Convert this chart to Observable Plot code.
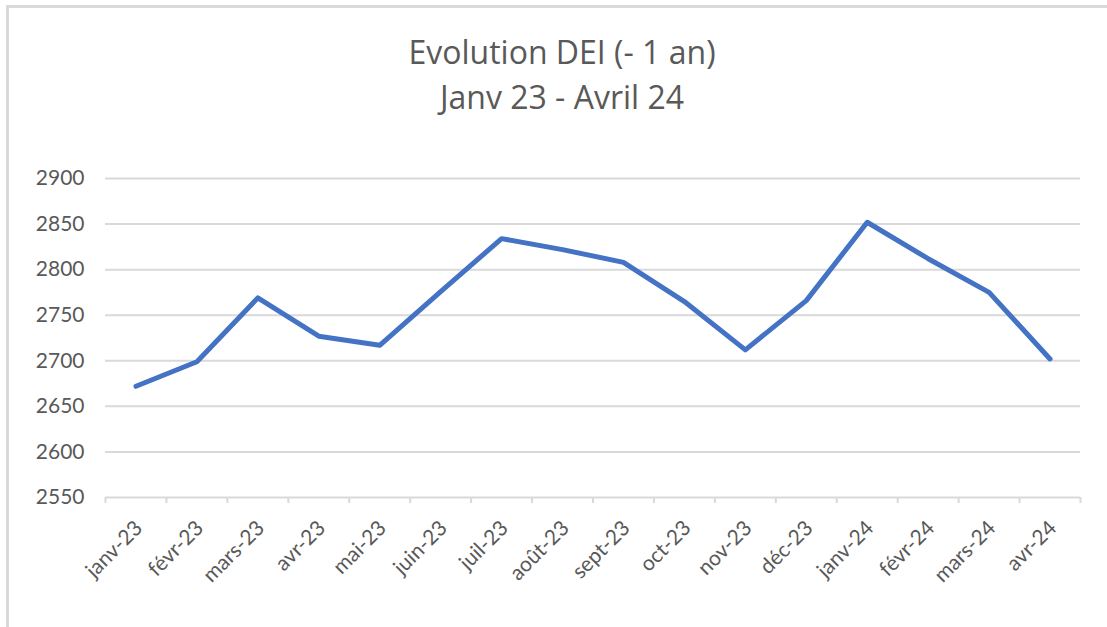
<!DOCTYPE html>
<html>
<head>
<meta charset="utf-8">
<script src="https://cdn.jsdelivr.net/npm/d3@7"></script>
<script src="https://cdn.jsdelivr.net/npm/@observablehq/plot@0.6"></script>
<style>
  html, body { margin: 0; padding: 0; background: #fff; }
  #wrap { position: relative; width: 1107px; height: 627px; overflow: hidden; font-family: Lato, "Open Sans", sans-serif; }
  #frame { position: absolute; left: 6px; top: 5px; right: 0; bottom: 0; border-top: 3px solid #d9d9d9; border-left: 3px solid #d9d9d9; }
  #title { position: absolute; left: 0; top: 29px; width: 1124px; text-align: center; color: #595959; font-family: "Open Sans", Lato, sans-serif; font-size: 32px; line-height: 45px; }
  #chart { position: absolute; left: 0; top: 150px; }
</style>
</head>
<body>
<div id="wrap">
  <div id="frame"></div>
  <div id="title">Evolution DEI (- 1 an)<br>Janv 23 - Avril 24</div>
  <div id="chart"></div>
</div>
<script>
const months = ["janv-23","févr-23","mars-23","avr-23","mai-23","juin-23","juil-23","août-23","sept-23","oct-23","nov-23","déc-23","janv-24","févr-24","mars-24","avr-24"];
const values = [2672, 2699, 2769, 2727, 2717, 2776, 2834, 2822, 2808, 2765, 2712, 2766, 2852, 2812, 2775, 2702];
const yTicks = [2550, 2600, 2650, 2700, 2750, 2800, 2850, 2900];

const data = months.map((m, i) => ({month: m, value: values[i]}));

const W = 1107, H = 470;
const mL = 105, mR = 27, mT = 28, mB = 123;
const step = (W - mL - mR) / months.length;

const plot = Plot.plot({
  width: W,
  height: H,
  marginLeft: mL,
  marginRight: mR,
  marginTop: mT,
  marginBottom: mB,
  style: {fontFamily: "Lato, 'Open Sans', sans-serif", background: "transparent", overflow: "visible"},
  x: {type: "point", domain: months, padding: 0.5, round: false},
  y: {domain: [2550, 2900]},
  marks: [
    Plot.gridY(yTicks, {stroke: "#d9d9d9", strokeOpacity: 1, strokeWidth: 2}),
    Plot.axisY(yTicks, {tickSize: 0, tickPadding: 21, fontSize: 21, fill: "#595959", tickFormat: d => String(d), label: null}),
    Plot.axisX(months, {tickSize: 6, stroke: "#d9d9d9", strokeWidth: 2, tickFormat: () => "", dx: -step / 2, label: null}),
    Plot.axisX([months[months.length - 1]], {tickSize: 6, stroke: "#d9d9d9", strokeWidth: 2, tickFormat: () => "", dx: step / 2, label: null}),
    Plot.axisX(months, {tickSize: 0, tickPadding: 27, tickRotate: -45, fontSize: 21, fill: "#595959", dx: 3, label: null}),
    Plot.line(data, {x: "month", y: "value", stroke: "#4472c4", strokeWidth: 5, strokeLinejoin: "round", strokeLinecap: "round"})
  ]
});
document.getElementById("chart").appendChild(plot);
</script>
</body>
</html>
